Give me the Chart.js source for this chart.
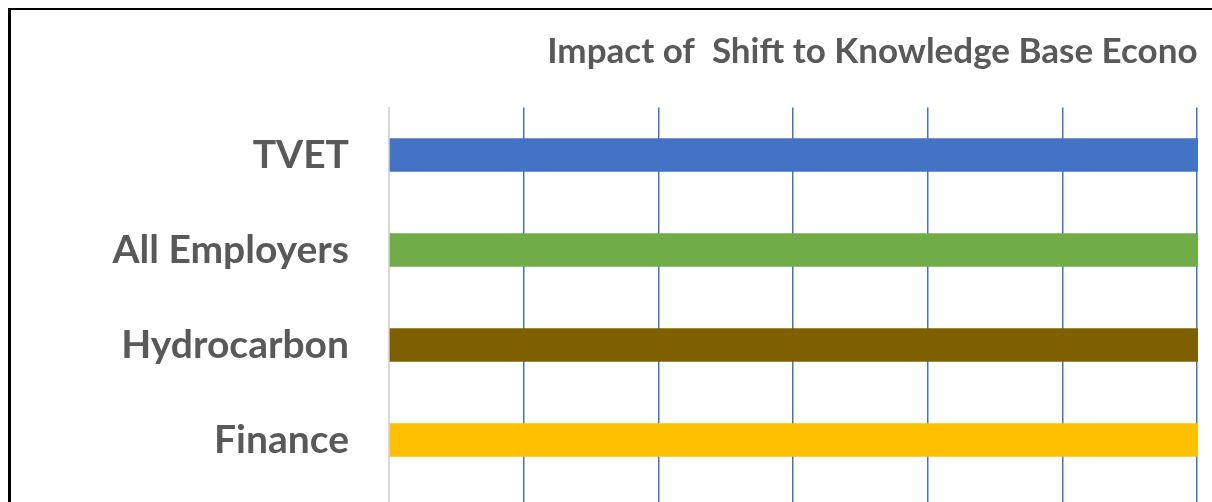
<!DOCTYPE html>
<html>
<head>
<meta charset="utf-8">
<script src="https://cdn.jsdelivr.net/npm/chart.js@4"></script>
<style>
html,body{margin:0;padding:0;background:#fff;width:1212px;height:502px;overflow:hidden;}
#frame{position:absolute;left:8px;top:8px;width:1204px;height:494px;border-top:2px solid #000;border-left:3px solid #000;}
#clip{position:absolute;left:11px;top:10px;width:1187px;height:492px;overflow:hidden;}
#clip canvas{position:absolute;left:0;top:0;}
</style>
</head>
<body>
<div id="frame"></div>
<div id="clip"><canvas id="chart"></canvas></div>
<script>
// ===== DATA =====
const chartTitle = "Impact of  Shift to Knowledge Base Economy";
const categories = ["TVET","All Employers","Hydrocarbon","Finance"];
// bars run past the visible edge (> 60), exact ends not visible
const impactValues = [80, 80, 80, 80];
const barColors = ["#4472C4","#70AD47","#7F6000","#FFC000"];
const xMin = 0, xStep = 10;

/* ================= SIZES ================= */
const titleFont = {family:"Lato", weight:"bold", size:35};
const m = document.createElement("canvas").getContext("2d");
m.font = "bold 35px Lato";
let tw = m.measureText(chartTitle).width;

// title is centred on the whole canvas; it starts near x=547 on page, canvas starts at x=11
let W = Math.round(2*(547-11) + tw);
let H = 560;
let yAxisW = 378;
let stepPx = 134.7; // one grid step on screen
// axis end so that the grid steps keep their on-screen spacing
let xMax = (W - yAxisW) / stepPx * xStep;

let cv = document.getElementById("chart");
cv.width = W; cv.height = H;
cv.style.width = W+"px"; cv.style.height = H+"px";

new Chart(cv, {
type:"bar",
data:{
labels:categories,
datasets:[{
data:impactValues,
backgroundColor:barColors,
barThickness:33
}]
},
options:{
indexAxis:"y",
responsive:false,
animation:false,
layout:{padding:0},
plugins:{
legend:{display:false},
tooltip:{enabled:false},
title:{
display:true,
text:chartTitle,
color:"#595959",
font:titleFont,
padding:{top:21,bottom:34.5}
}
},
scales:{
x:{
min:xMin,max:xMax,
ticks:{display:false,stepSize:xStep},
border:{display:false},
grid:{
color:c=>c.index===0?"#d9d9d9":"#4472C4",
lineWidth:c=>c.index===0?2:1.5,
drawTicks:true,
tickLength:60
},
afterFit:s=>{s.height = H - 477.5;}
},
y:{
ticks:{color:"#595959",font:{family:"Lato",weight:"bold",size:39},padding:32},
grid:{display:false},
border:{display:true,color:"#d9d9d9",width:2},
afterFit:s=>{s.width = yAxisW;}
}
}
}
});
</script>
</body>
</html>
